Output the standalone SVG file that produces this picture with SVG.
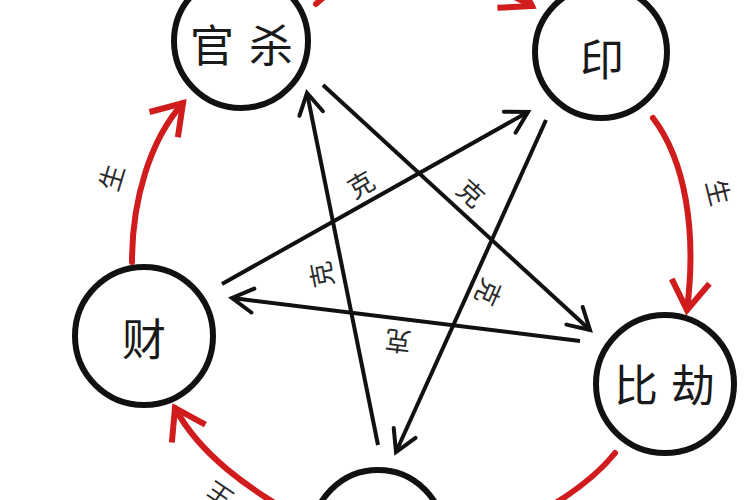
<svg xmlns="http://www.w3.org/2000/svg" width="750" height="500" viewBox="0 0 750 500">
  <style>
    .node circle { fill: #ffffff; stroke: #111111; stroke-width: 6; }
    .node text { font-family: "Noto Sans CJK SC", "Noto Sans", sans-serif; font-size: 44px; fill: #1a1a1a; text-anchor: middle; dominant-baseline: central; }
    .ke { fill: none; stroke: #111111; stroke-width: 4; marker-end: url(#blackArrow); }
    .sheng { fill: none; stroke: #d01c1c; stroke-width: 6; stroke-linecap: round; }
    .sheng.arrow { marker-end: url(#redArrow); }
    .lbl { font-family: "Noto Sans CJK SC", "Noto Sans", sans-serif; font-size: 26px; fill: #2a2a2a; text-anchor: middle; dominant-baseline: central; }
  </style>
  <defs>
    <marker id="blackArrow" markerUnits="userSpaceOnUse" viewBox="-26 -16 30 32" markerWidth="30" markerHeight="32" refX="0" refY="0" orient="auto" overflow="visible">
      <path d="M-21,-12 L0,0 L-21,12" fill="none" stroke="#111111" stroke-width="4" stroke-linecap="round" stroke-linejoin="miter"/>
    </marker>
    <marker id="redArrow" markerUnits="userSpaceOnUse" viewBox="-34 -24 40 48" markerWidth="40" markerHeight="48" refX="0" refY="0" orient="auto" overflow="visible">
      <path d="M-29,-19 L0,0 L-29,19" fill="none" stroke="#d01c1c" stroke-width="6" stroke-linecap="butt" stroke-linejoin="miter"/>
    </marker>
  </defs>
  <rect width="750" height="500" fill="#ffffff"/>

  <g id="connectors">
    <path class="sheng arrow" d="M316,4 C360,-40 470,-30 532,6"/>
    <path class="sheng arrow" d="M653,118 C685,160 697,230 687,310"/>
    <path class="sheng" d="M615,453 C595,478 568,497 535,515"/>
    <path class="sheng arrow" d="M300,518 C250,490 200,455 175,408"/>
    <path class="sheng arrow" d="M132,262 C132,200 150,140 183,103"/>

    <path class="ke" d="M323,85 L590,330"/>
    <path class="ke" d="M378,445 L307,93"/>
    <path class="ke" d="M222,284 L528,112"/>
    <path class="ke" d="M580,341 L232,298"/>
    <path class="ke" d="M546,120 L396,452"/>

    <text class="lbl" transform="translate(110,177) rotate(-73)">生</text>
    <text class="lbl" transform="translate(720,192) rotate(76)">生</text>
    <text class="lbl" transform="translate(218,497) rotate(-146)">生</text>

    <text class="lbl" transform="translate(360,183) rotate(-30)">克</text>
    <text class="lbl" transform="translate(472,192) rotate(42)">克</text>
    <text class="lbl" transform="translate(320,275) rotate(-101)">克</text>
    <text class="lbl" transform="translate(490,293) rotate(114)">克</text>
    <text class="lbl" transform="translate(398,343) rotate(187)">克</text>
  </g>

  <g id="node-guansha" class="node">
    <circle cx="241" cy="41" r="67"/>
    <text x="249" y="43" letter-spacing="15">官杀</text>
  </g>
  <g id="node-yin" class="node">
    <circle cx="601" cy="52" r="66"/>
    <text x="602" y="57">印</text>
  </g>
  <g id="node-bijie" class="node">
    <circle cx="665" cy="384" r="69"/>
    <text x="671" y="383" letter-spacing="13">比劫</text>
  </g>
  <g id="node-shishang" class="node">
    <circle cx="378" cy="536" r="66"/>
  </g>
  <g id="node-cai" class="node">
    <circle cx="144" cy="336" r="69"/>
    <text x="144" y="337">财</text>
  </g>
</svg>
